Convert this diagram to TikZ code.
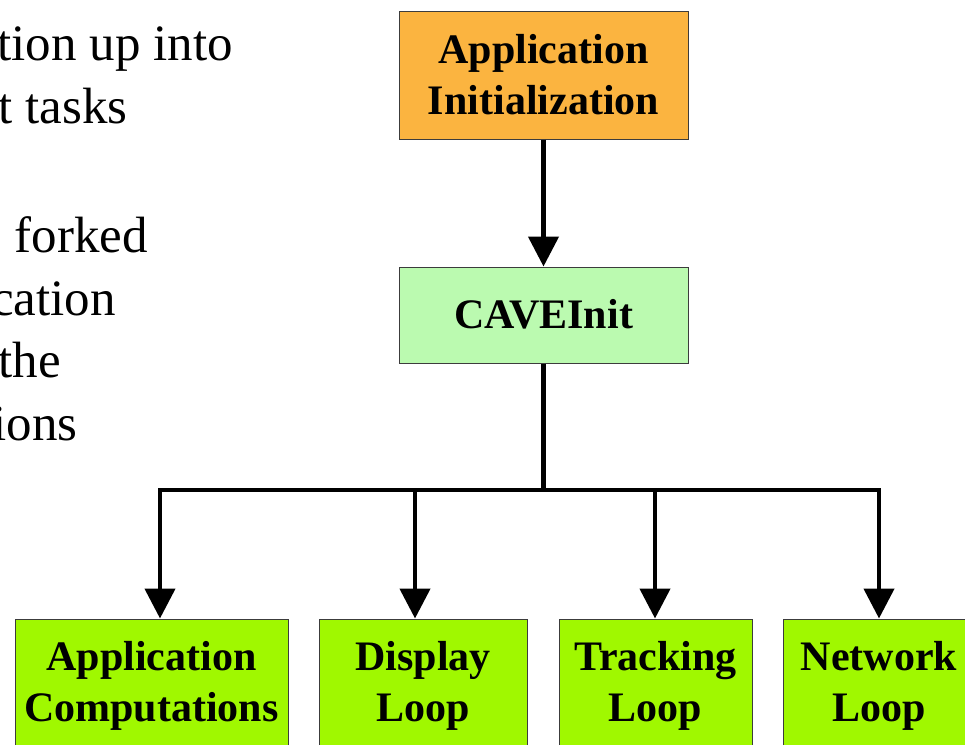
\documentclass[tikz,border=0pt]{standalone}
\usepackage{fontspec}
\setmainfont{Liberation Serif}
\newfontfamily\bodyserif{Liberation Serif}
\usetikzlibrary{arrows.meta}
\definecolor{initorange}{RGB}{251,180,64}
\definecolor{cavegreen}{RGB}{187,250,176}
\definecolor{loopgreen}{RGB}{160,248,0}
\definecolor{boxedge}{RGB}{60,60,60}
\tikzset{
  boxbase/.style={draw=boxedge, line width=1pt, inner sep=0pt},
  boxtext/.style={font=\fontsize{42}{51}\selectfont\bfseries, align=center, inner sep=0pt},
  bodytext/.style={font=\bodyserif\fontsize{51}{61}\selectfont, anchor=base east, inner sep=0pt},
  wire/.style={line width=4.5pt, black},
  arr/.style={wire, -{Triangle[width=30pt,length=30pt]}}
}
\begin{document}
\begin{tikzpicture}[x=1pt,y=-1pt]
\useasboundingbox (0,0) rectangle (965,744);
\clip (0,0) rectangle (965,744);
\fill[white] (0,0) rectangle (965,744);

% left body text (cut off at the left edge)
\node[bodytext] (t1) at (233,60) {tion up into};
\node[bodytext] (t2) at (128,123) {t tasks};
\node[bodytext] (t3) at (148,252) {forked};
\node[bodytext] (t4) at (116,315) {cation};
\node[bodytext] (t5) at (61,377) {the};
\node[bodytext] (t6) at (78,440) {ions};

% upper boxes
\node[boxbase, fill=initorange, minimum width=289pt, minimum height=128pt] (init) at (543.5,75) {};
\node[boxtext] (inittext) at (543.5,75) {Application\\Initialization};
\node[boxbase, fill=cavegreen, minimum width=289pt, minimum height=96pt] (cave) at (543.5,315) {};
\node[boxtext] (cavetext) at (543.5,314) {CAVEInit};

% lower boxes
\node[boxbase, fill=loopgreen, minimum width=273pt, minimum height=170pt] (acbox) at (151.5,704) {};
\node[boxtext] (actext) at (151.5,686) {Application\\Computations};
\node[boxbase, fill=loopgreen, minimum width=208pt, minimum height=170pt] (dlbox) at (423,704) {};
\node[boxtext] (dltext) at (423,686) {Display\\Loop};
\node[boxbase, fill=loopgreen, minimum width=193pt, minimum height=170pt] (tlbox) at (655.5,704) {};
\node[boxtext] (tltext) at (655.5,686) {Tracking\\Loop};
\node[boxbase, fill=loopgreen, minimum width=192pt, minimum height=170pt] (nlbox) at (879,704) {};
\node[boxtext] (nltext) at (879,686) {Network\\Loop};

% connectors
\coordinate (b1) at (160,490);
\coordinate (b2) at (415,490);
\coordinate (b3) at (655,490);
\coordinate (b4) at (879,490);
\draw[arr] (init.south) -- (cave.north);
\draw[wire] (cave.south) -- (cave.south |- b1);
\draw[wire, line cap=rect] (b1) -- (b4);
\draw[arr] (b1) -- (b1 |- acbox.north);
\draw[arr] (b2) -- (b2 |- dlbox.north);
\draw[arr] (b3) -- (b3 |- tlbox.north);
\draw[arr] (b4) -- (b4 |- nlbox.north);
\end{tikzpicture}
\end{document}
